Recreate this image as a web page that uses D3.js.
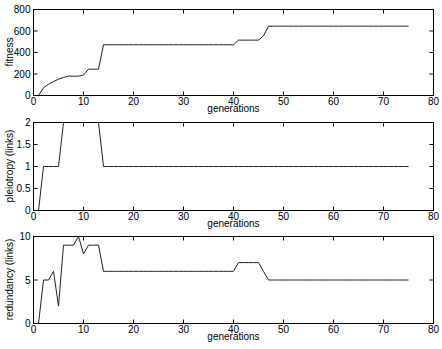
<!DOCTYPE html>
<html><head><meta charset="utf-8">
<script src="https://cdn.jsdelivr.net/npm/d3@7/dist/d3.min.js"></script>
<style>body{margin:0;background:#fff}svg{display:block}text{font-family:"Liberation Sans",Arial,sans-serif;font-size:10px;fill:#000}</style>
</head><body><svg id="c" width="442" height="349"></svg>
<script>
const generations = d3.range(1, 76);
const fitness = [0,72,105,130,152,168,180,180,180,190,245,245,245,472,
  472,472,472,472,472,472,472,472,472,472,472,472,472,472,472,472,472,472,472,472,472,472,472,472,472,472,
  515,515,515,515,515,555,645,
  645,645,645,645,645,645,645,645,645,645,645,645,645,645,645,645,645,645,645,645,645,645,645,645,645,645,645,645];
const pleiotropy = [0,1,1,1,1,2,2,2,2,2,2,2,2,1,
  1,1,1,1,1,1,1,1,1,1,1,1,1,1,1,1,1,1,1,1,1,1,1,1,1,1,1,1,1,1,1,1,1,1,1,1,1,1,1,1,1,1,1,1,1,1,1,1,1,1,1,1,1,1,1,1,1,1,1,1,1];
const redundancy = [0,5,5,6,2,9,9,9,10,8,9,9,9,6,
  6,6,6,6,6,6,6,6,6,6,6,6,6,6,6,6,6,6,6,6,6,6,6,6,6,6,
  7,7,7,7,7,6,5,
  5,5,5,5,5,5,5,5,5,5,5,5,5,5,5,5,5,5,5,5,5,5,5,5,5,5,5,5,5];
const xTicks = [0,10,20,30,40,50,60,70,80];
const panels = [
  {label:"fitness", values:fitness, domain:[0,800], ticks:[0,200,400,600,800], top:9, bottom:95},
  {label:"pleiotropy (links)", values:pleiotropy, domain:[0,2], ticks:[0,0.5,1,1.5,2], top:122, bottom:210},
  {label:"redundancy (links)", values:redundancy, domain:[0,10], ticks:[0,5,10], top:236, bottom:323}
];
const svg = d3.select("#c");
const left = 33.5, right = 433.5;
const x = d3.scaleLinear().domain([0,80]).range([left,right]);
const tl = 4;
panels.forEach(p => {
  const y = d3.scaleLinear().domain(p.domain).range([p.bottom+0.5, p.top+0.5]);
  const g = svg.append("g");
  g.append("path").datum(generations.map((gn,i)=>[gn,p.values[i]]))
    .attr("fill","none").attr("stroke","#222").attr("stroke-width",1)
    .attr("d", d3.line().x(d=>x(d[0])).y(d=>y(d[1])));
  g.append("rect").attr("x",left).attr("y",p.top+0.5).attr("width",right-left).attr("height",p.bottom-p.top)
    .attr("fill","none").attr("stroke","#000").attr("stroke-width",1);
  xTicks.forEach(t=>{
    g.append("line").attr("x1",x(t)).attr("x2",x(t)).attr("y1",p.bottom+0.5).attr("y2",p.bottom+0.5-tl).attr("stroke","#000");
    g.append("line").attr("x1",x(t)).attr("x2",x(t)).attr("y1",p.top+0.5).attr("y2",p.top+0.5+tl).attr("stroke","#000");
    g.append("text").attr("x",x(t)).attr("y",p.bottom+10).attr("text-anchor","middle").text(t);
  });
  p.ticks.forEach(t=>{
    g.append("line").attr("x1",left).attr("x2",left+tl).attr("y1",y(t)).attr("y2",y(t)).attr("stroke","#000");
    g.append("line").attr("x1",right).attr("x2",right-tl).attr("y1",y(t)).attr("y2",y(t)).attr("stroke","#000");
    g.append("text").attr("x",left-3).attr("y",y(t)+3.5).attr("text-anchor","end").text(t);
  });
  g.append("text").attr("x",(left+right)/2).attr("y",p.bottom+17).attr("text-anchor","middle").text("generations");
  g.append("text").attr("transform",`translate(13,${(p.top+p.bottom)/2}) rotate(-90)`).attr("text-anchor","middle").text(p.label);
});
</script></body></html>
